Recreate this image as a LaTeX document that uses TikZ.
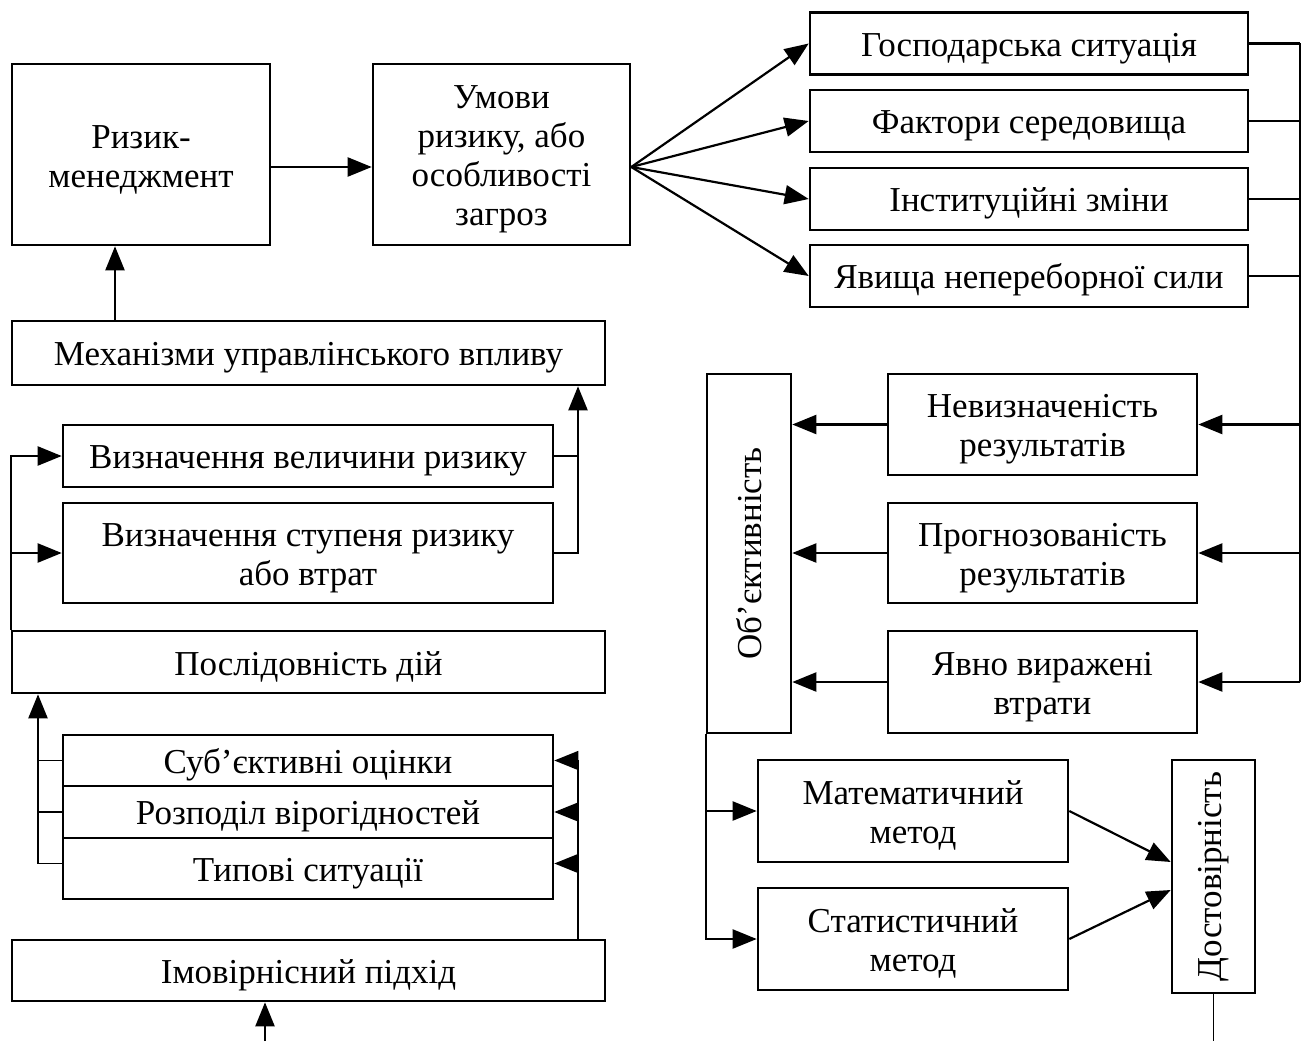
\documentclass[tikz,border=0pt]{standalone}
\usepackage{fontspec}
\setmainfont{Liberation Serif}
\usetikzlibrary{arrows.meta,positioning,calc}
\newcommand\kstrut{\rule{0pt}{33pt}}
\tikzset{
  >={Triangle[length=24pt,width=19pt]},
  % блоки
  bx/.style={draw=black,line width=2.6pt,fill=white,inner sep=0pt,align=center,
             font=\fontsize{35}{39}\selectfont,
             execute at begin node={\kstrut}},
  wide/.style={bx,minimum width=593pt,minimum height=62pt},
  mid/.style={bx,minimum width=490pt},
  fct/.style={bx,minimum width=438pt,minimum height=62pt},
  res/.style={bx,minimum width=309pt,minimum height=101pt},
  met/.style={bx,minimum width=310pt,minimum height=102pt},
  % зв'язки
  ln/.style={draw=black,line width=2.2pt},
  arr/.style={->,draw=black,line width=2.2pt},
  tln/.style={draw=black,line width=1.5pt},
  tarr/.style={->,draw=black,line width=1.5pt},
}
\begin{document}
\begin{tikzpicture}[x=1pt,y=-1pt]
\useasboundingbox (0,0) rectangle (1308,1041);
  \coordinate (bus) at (1300,0);
  \coordinate (rb) at (578,0);
  \coordinate (lb) at (38,0);
  \coordinate (bot) at (0,1041);
  % верх
  \node[bx,minimum width=258pt,minimum height=181pt] (rm) at (141,154.5) {\kstrut Ризик-\\менеджмент};
  \node[bx,minimum width=257pt,minimum height=181pt] (um) at (501.5,154.5)
    {\kstrut Умови\\ризику, або\\особливості\\загроз};
  \node[fct] (g1) at (1029,43.5) {Господарська ситуація};
  \node[fct] (g2) at (1029,121) {Фактори середовища};
  \node[fct] (g3) at (1029,199) {Інституційні зміни};
  \node[fct] (g4) at (1029,276) {Явища непереборної сили};
  % ліва колонка
  \node[wide,minimum height=64pt] (mech) at (308.5,353) {Механізми управлінського впливу};
  \node[mid,minimum height=62pt] (vv) at (308,456) {Визначення величини ризику};
  \node[mid,minimum height=100pt] (vs) at (308,553) {\kstrut Визначення ступеня ризику\\або втрат};
  \node[wide] (pd) at (308.5,662) {Послідовність дій};
  \node[mid,minimum height=51pt] (so) at (308,760.5) {Суб’єктивні оцінки};
  \node[mid,minimum height=52pt] (rp) at (308,812) {Розподіл вірогідностей};
  \node[mid,minimum height=61pt] (tp) at (308,868.5) {Типові ситуації};
  \node[wide,minimum height=61pt] (iv) at (308.5,970.5) {Імовірнісний підхід};
  % права колонка
  \node[bx,minimum width=84pt,minimum height=359pt] (ob) at (749,553.5)
    {\rotatebox{90}{Об’єктивність}};
  \node[res] (nr) at (1042.5,424.5) {\kstrut Невизначеність\\результатів};
  \node[res,minimum height=100pt] (pr) at (1042.5,553) {\kstrut Прогнозованість\\результатів};
  \node[res,minimum height=102pt] (yv) at (1042.5,682) {\kstrut Явно виражені\\втрати};
  \node[met] (mm) at (913,811) {\kstrut Математичний\\метод};
  \node[met] (sm) at (913,939) {\kstrut Статистичний\\метод};
  \node[bx,minimum width=83pt,minimum height=233pt] (dv) at (1213.5,876.5)
    {\rotatebox{90}{Достовірність}};
  % стрілки
  \draw[arr] ([yshift=-12.5pt]rm.east) -- ([yshift=-12.5pt]um.west);
  \foreach \g in {g1,g2,g3,g4}
    \draw[arr] ([yshift=-12.5pt]um.east) -- (\g.west);
  \foreach \g in {g1,g2,g3,g4}
    \draw[ln] (\g.east) -- (\g.east -| bus);
  \draw[ln] (g1.east -| bus) -- (yv.east -| bus);
  \foreach \r in {nr,pr,yv}{
    \draw[arr] (\r.east -| bus) -- (\r.east);
    \draw[arr] (\r.west) -- (\r.west -| ob.east);
  }
  \draw[arr] (ob.south west) |- (mm.west);
  \draw[arr] (ob.south west) |- (sm.west);
  \draw[arr] (mm.east) -- ([yshift=14.5pt]dv.west);
  \draw[arr] (sm.east) -- ([yshift=-13.5pt]dv.west);
  \draw[tln] (dv.south) -- (dv.south |- bot);
  % ліва частина
  \draw[arr] ([xshift=-26pt]rm.south |- mech.north) -- ([xshift=-26pt]rm.south);
  \draw[ln] (vv.east) -- (vv.east -| rb);
  \draw[arr] (vs.east) -| (mech.south -| rb);
  \draw[arr] (pd.north west) |- (vv.west);
  \draw[arr] (pd.north west) |- (vs.west);
  \draw[arr] ([yshift=5pt]tp.west -| lb) -- (pd.south -| lb);
  \draw[tln] (so.west) -- (so.west -| lb);
  \draw[tln] (rp.west) -- (rp.west -| lb);
  \draw[tln] ([yshift=5pt]tp.west) -- ([yshift=5pt]tp.west -| lb);
  \draw[tln] (iv.north -| rb) -- (so.east -| rb);
  \draw[tarr] (so.east -| rb) -- (so.east);
  \draw[tarr] (rp.east -| rb) -- (rp.east);
  \draw[tarr] ([yshift=5pt]tp.east -| rb) -- ([yshift=5pt]tp.east);
  \draw[arr] ([xshift=-43.5pt]iv.south |- bot) -- ([xshift=-43.5pt]iv.south);
\end{tikzpicture}
\end{document}
